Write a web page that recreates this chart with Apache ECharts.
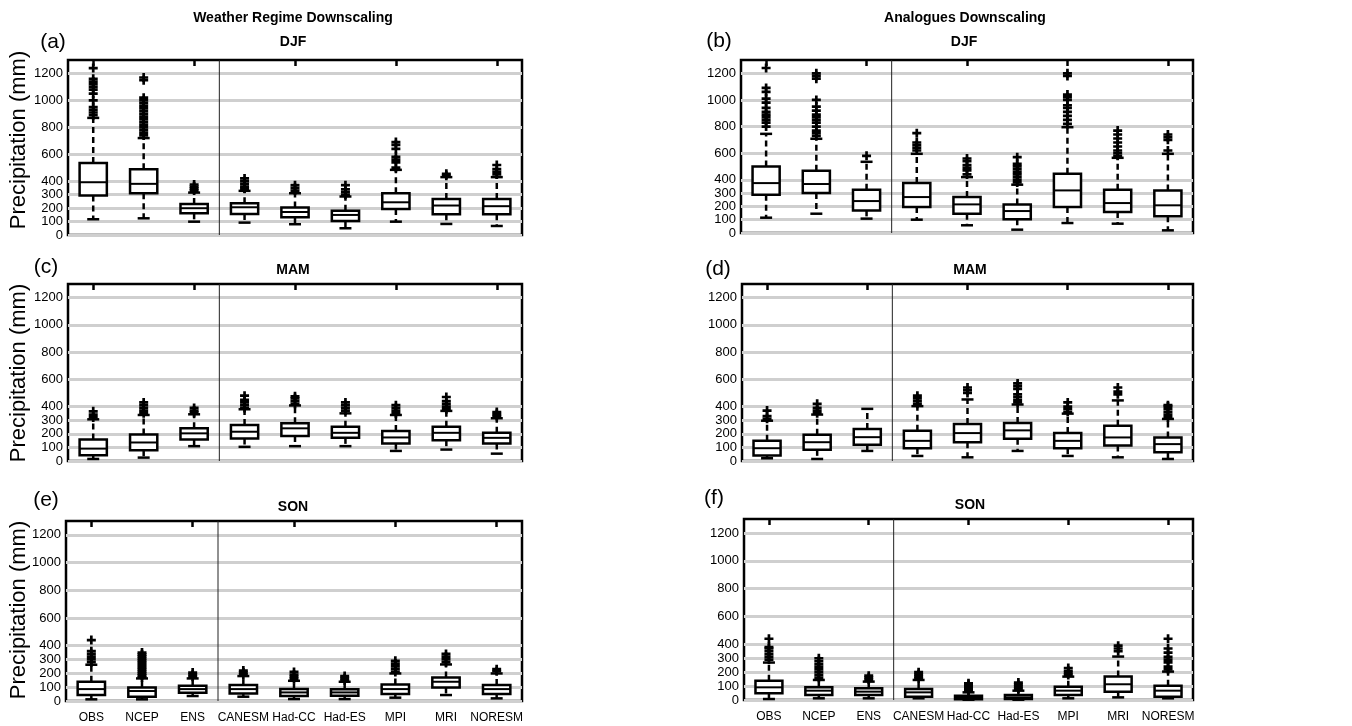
<!DOCTYPE html>
<html>
<head>
<meta charset="utf-8">
<script src="https://cdn.jsdelivr.net/npm/echarts@6/dist/echarts.min.js"></script>
<style>
html, body { margin: 0; padding: 0; background: #fff; }
#main { width: 1352px; height: 726px; }
</style>
</head>
<body>
<div id="main"></div>
<script>
var categories = ['OBS', 'NCEP', 'ENS', 'CANESM', 'Had-CC', 'Had-ES', 'MPI', 'MRI', 'NORESM']
var yTicks = [0, 100, 200, 300, 400, 600, 800, 1000, 1200]

// each box: [lower whisker, q1, median, q3, upper whisker]
var djfWR = [[117, 293, 392, 534, 870], [124, 310, 380, 489, 720], [99, 161, 199, 231, 315], [92, 156, 206, 236, 328], [80, 132, 171, 204, 310], [50, 104, 149, 181, 286], [99, 194, 243, 310, 484], [82, 154, 219, 268, 430], [67, 154, 214, 268, 430]]
var djfWROut = [[890, 910, 930, 950, 1000, 1050, 1080, 1100, 1120, 1140, 1160, 1240], [740, 760, 780, 800, 820, 840, 860, 880, 900, 920, 940, 960, 980, 1000, 1020, 1150, 1170], [330, 345, 360, 375], [345, 360, 380, 400, 420], [330, 350, 370], [300, 320, 340, 370], [500, 540, 560, 580, 640, 670, 690], [440, 455], [450, 470, 490, 520]]

var djfAN = [[115, 288, 375, 500, 745], [145, 300, 368, 468, 708], [108, 170, 240, 325, 535], [100, 195, 270, 375, 595], [58, 145, 215, 270, 420], [25, 103, 165, 215, 363], [75, 195, 320, 445, 795], [70, 158, 225, 325, 565], [20, 125, 208, 320, 595]]
var djfANOut = [[800, 830, 850, 870, 890, 910, 940, 980, 1010, 1060, 1090, 1240], [730, 750, 770, 800, 830, 850, 870, 890, 920, 950, 1000, 1160, 1180, 1200], [580], [620, 640, 660, 680, 750], [440, 470, 490, 510, 540, 560], [380, 400, 420, 440, 460, 480, 500, 520, 570], [820, 850, 880, 910, 940, 960, 1000, 1020, 1040, 1180, 1200], [580, 600, 620, 650, 680, 710, 740, 770], [620, 700, 720, 740]]

var mamWR = [[15, 42, 91, 158, 306], [25, 79, 136, 195, 338], [109, 158, 203, 240, 343], [104, 165, 215, 264, 380], [109, 183, 240, 277, 408], [109, 170, 207, 252, 350], [74, 128, 173, 220, 338], [84, 153, 207, 252, 368], [54, 128, 170, 207, 314]]
var mamWROut = [[320, 340, 365], [350, 370, 390, 410, 430], [355, 370, 390], [390, 410, 430, 450, 480], [420, 440, 460, 475], [370, 390, 410, 430], [350, 370, 390, 410], [380, 400, 420, 440, 470], [330, 345, 360]]

var mamAN = [[20, 40, 94, 148, 296], [15, 82, 138, 193, 341], [74, 119, 175, 235, 383], [37, 94, 148, 222, 403], [27, 138, 205, 272, 452], [74, 163, 225, 279, 415], [37, 94, 148, 205, 348], [27, 114, 173, 259, 445], [15, 64, 124, 173, 309]]
var mamANOut = [[310, 330, 370], [350, 370, 390, 420], [], [420, 440, 460, 480], [500, 520, 540], [430, 450, 470, 490, 530, 550, 570], [360, 380, 400, 430], [490, 510, 540], [320, 340, 360, 380, 400, 410]]

var sonWR = [[12, 43, 86, 139, 262], [12, 31, 72, 98, 163], [36, 60, 86, 110, 163], [31, 55, 86, 115, 180], [14, 36, 62, 86, 146], [14, 38, 62, 84, 139], [24, 50, 86, 120, 199], [43, 98, 139, 170, 264], [19, 50, 86, 115, 199]]
var sonWROut = [[280, 300, 320, 340, 360, 440], [170, 185, 200, 215, 230, 245, 260, 275, 290, 305, 320, 335, 350], [175, 190, 205], [190, 205, 220], [160, 175, 190, 210], [150, 165, 180], [210, 230, 250, 270, 290], [280, 300, 320, 340], [215, 230]]

var sonAN = [[7, 48, 91, 139, 269], [12, 36, 67, 91, 144], [12, 36, 60, 84, 132], [12, 24, 55, 79, 144], [2, 5, 19, 31, 55], [2, 7, 19, 36, 67], [12, 36, 67, 96, 168], [19, 60, 113, 168, 312], [12, 24, 67, 103, 204]]
var sonANOut = [[290, 310, 330, 350, 370, 380, 440], [160, 180, 200, 220, 240, 260, 280, 300], [145, 160, 175], [155, 170, 185, 200], [65, 80, 95, 110, 120], [80, 95, 110, 125], [180, 195, 210, 230], [350, 370, 390], [220, 240, 270, 290, 310, 340, 370, 440]]

var panels = [
    { boxes: djfWR, out: djfWROut, grid: { left: 68, top: 60, width: 454, height: 175 }, xLabels: false },
    { boxes: djfAN, out: djfANOut, grid: { left: 741, top: 60, width: 452, height: 173 }, xLabels: false },
    { boxes: mamWR, out: mamWROut, grid: { left: 68, top: 284, width: 454, height: 177 }, xLabels: false },
    { boxes: mamAN, out: mamANOut, grid: { left: 742, top: 284, width: 451, height: 177 }, xLabels: false },
    { boxes: sonWR, out: sonWROut, grid: { left: 66, top: 521, width: 456, height: 180 }, xLabels: true },
    { boxes: sonAN, out: sonANOut, grid: { left: 744, top: 519, width: 449, height: 181 }, xLabels: true }
]

var font = 'Liberation Sans, Arial, sans-serif'
var plusPath = 'path://M3.5,0H6.5V3.5H10V6.5H6.5V10H3.5V6.5H0V3.5H3.5Z'

function renderBox(params, api) {
    var x = api.value(0)
    var lo = api.coord([x, api.value(1)])
    var q1 = api.coord([x, api.value(2)])
    var md = api.coord([x, api.value(3)])
    var q3 = api.coord([x, api.value(4)])
    var hi = api.coord([x, api.value(5)])
    var band = api.size([1, 0])[0]
    var bw = band * 0.54
    var cw = 12
    var cx = lo[0]
    var line = { stroke: '#000', lineWidth: 2.5 }
    var dashed = { stroke: '#000', lineWidth: 2.5, lineDash: [6, 4] }
    var kids = [
        { type: 'line', shape: { x1: cx, y1: q3[1], x2: cx, y2: hi[1] }, style: dashed },
        { type: 'line', shape: { x1: cx, y1: q1[1], x2: cx, y2: lo[1] }, style: dashed },
        { type: 'line', shape: { x1: cx - cw / 2, y1: hi[1], x2: cx + cw / 2, y2: hi[1] }, style: line },
        { type: 'line', shape: { x1: cx - cw / 2, y1: lo[1], x2: cx + cw / 2, y2: lo[1] }, style: line },
        { type: 'rect', shape: { x: cx - bw / 2, y: q3[1], width: bw, height: q1[1] - q3[1] }, style: { fill: '#fff', stroke: '#000', lineWidth: 2.5 } },
        { type: 'line', shape: { x1: cx - bw / 2, y1: md[1], x2: cx + bw / 2, y2: md[1] }, style: { stroke: '#000', lineWidth: 2 } }
    ]
    // thin divider between the reference sets and the models
    if (x === 2) {
        var cs = params.coordSys
        kids.unshift({ type: 'line', shape: { x1: cx + band / 2, y1: cs.y, x2: cx + band / 2, y2: cs.y + cs.height }, style: { stroke: '#222', lineWidth: 1 } })
    }
    return { type: 'group', children: kids }
}

var grids = [], xAxes = [], yAxes = [], series = []
panels.forEach(function (p, i) {
    grids.push(Object.assign({ show: true, borderColor: '#000', borderWidth: 2.5, backgroundColor: 'transparent' }, p.grid))
    xAxes.push({
        type: 'category', gridIndex: i, data: categories,
        axisLine: { show: false }, axisTick: { show: false },
        axisLabel: { show: p.xLabels, color: '#000', fontSize: 12, fontFamily: font, margin: 11, interval: 0 }
    })
    yAxes.push({
        type: 'value', gridIndex: i, min: 0, max: 1300, interval: 100,
        axisLine: { show: false },
        axisTick: { show: false, customValues: yTicks },
        axisLabel: {
            customValues: yTicks, showMinLabel: true, hideOverlap: false,
            color: '#000', fontSize: 13, lineHeight: 11, fontFamily: font, margin: 5,
            formatter: function (v) { return String(v) }
        },
        splitLine: { show: true, lineStyle: { color: '#cfcfcf', width: 3 } }
    })
    series.push({
        type: 'custom', xAxisIndex: i, yAxisIndex: i,
        renderItem: renderBox,
        encode: { x: 0, y: [1, 2, 3, 4, 5] },
        data: p.boxes.map(function (b, k) { return [k].concat(b) }),
        z: 3
    })
    var pts = []
    p.out.forEach(function (list, k) {
        list.forEach(function (v) { pts.push([k, v]) })
    })
    series.push({
        type: 'scatter', xAxisIndex: i, yAxisIndex: i,
        symbol: plusPath, symbolSize: 9,
        itemStyle: { color: '#000', opacity: 1 },
        data: pts, z: 4
    })
})
// mirrored ticks on the top edge of every panel
panels.forEach(function (p, i) {
    xAxes.push({
        type: 'category', gridIndex: i, position: 'top', data: categories,
        axisLine: { show: false }, axisLabel: { show: false },
        axisTick: { show: true, inside: true, alignWithLabel: true, length: 6, lineStyle: { color: '#000', width: 2.5 } }
    })
})

function txt(x, y, s, size, bold, rot) {
    return {
        type: 'text', x: x, y: y, rotation: rot || 0,
        style: { text: s, fontSize: size, fontWeight: bold ? 'bold' : 'normal', fontFamily: font, fill: '#000', align: 'center', verticalAlign: 'middle' }
    }
}

var myChart = echarts.init(document.getElementById('main'))
myChart.setOption({
    animation: false,
    backgroundColor: '#fff',
    graphic: [
        txt(293, 18, 'Weather Regime Downscaling', 14, true),
        txt(965, 18, 'Analogues Downscaling', 14, true),
        txt(293, 42, 'DJF', 14, true),
        txt(964, 42, 'DJF', 14, true),
        txt(293, 270, 'MAM', 14, true),
        txt(970, 270, 'MAM', 14, true),
        txt(293, 507, 'SON', 14, true),
        txt(970, 505, 'SON', 14, true),
        txt(53, 42, '(a)', 21),
        txt(719, 41, '(b)', 21),
        txt(46, 267, '(c)', 21),
        txt(718, 269, '(d)', 21),
        txt(46, 500, '(e)', 21),
        txt(714, 498, '(f)', 21),
        txt(19, 140, 'Precipitation (mm)', 22, false, Math.PI / 2),
        txt(19, 373, 'Precipitation (mm)', 22, false, Math.PI / 2),
        txt(19, 610, 'Precipitation (mm)', 22, false, Math.PI / 2)
    ],
    grid: grids,
    xAxis: xAxes,
    yAxis: yAxes,
    series: series
})
</script>
</body>
</html>
